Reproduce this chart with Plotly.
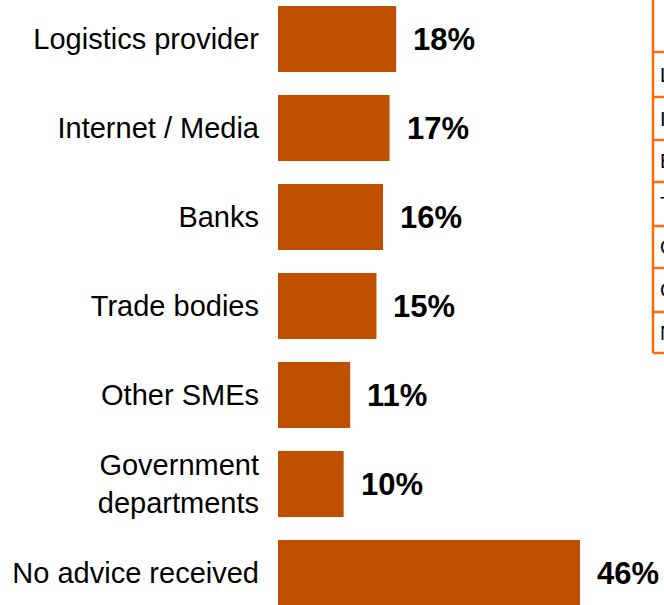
import plotly.graph_objects as go

# Sources of advice (share of respondents, %)
categories = [
    "Logistics provider",
    "Internet / Media",
    "Banks",
    "Trade bodies",
    "Other SMEs",
    "Government<br>departments",
    "No advice received",
]
values = [18, 17, 16, 15, 11, 10, 46]
value_labels = [f"{v}%" for v in values]

# Side table row entries (only the leftmost sliver is in view)
table_rows = ["Logistics provider", "Internet / Media", "Banks", "Trade bodies",
              "Other SMEs", "Government departments", "No advice received"]

BAR_COLOR = "#C04F00"
TABLE_LINE = "#FF6A0D"
FONT = "Liberation Sans, Arial, sans-serif"

fig = go.Figure()
fig.add_trace(go.Bar(
    x=values,
    y=categories,
    orientation="h",
    marker=dict(color=BAR_COLOR, line=dict(width=0)),
    width=0.74,
    hoverinfo="skip",
))

# Bold value labels to the right of each bar
for cat, v, lab in zip(categories, values, value_labels):
    fig.add_annotation(
        x=v, y=cat, xref="x", yref="y",
        text=f"<b>{lab}</b>", showarrow=False,
        xanchor="left", yanchor="middle", xshift=15, yshift=-1,
        font=dict(family=FONT, size=31, color="#000000"),
    )

# Side table: left border, row separators and clipped row text
row_edges = [0, 52, 97, 140, 182, 226, 268, 312, 353]
fig.add_shape(
    type="line", xref="paper", yref="paper",
    xsizemode="pixel", ysizemode="pixel", xanchor=1, yanchor=1,
    x0=-11, x1=-11, y0=0, y1=-row_edges[-1],
    line=dict(color=TABLE_LINE, width=2.5),
)
for e in row_edges[1:]:
    fig.add_shape(
        type="line", xref="paper", yref="paper",
        xsizemode="pixel", ysizemode="pixel", xanchor=1, yanchor=1,
        x0=-11, x1=5, y0=-e, y1=-e,
        line=dict(color=TABLE_LINE, width=2.5),
    )
for i, txt in enumerate(table_rows):
    mid = (row_edges[i + 1] + row_edges[i + 2]) / 2
    fig.add_annotation(
        x=1, y=1, xref="paper", yref="paper",
        xshift=-6, yshift=-mid,
        text=txt, showarrow=False,
        xanchor="left", yanchor="middle",
        font=dict(family=FONT, size=20, color="#000000"),
    )

fig.update_layout(
    width=664, height=605,
    margin=dict(l=278, r=0, t=0, b=0),
    paper_bgcolor="white", plot_bgcolor="white",
    showlegend=False,
    bargap=0.26,
    xaxis=dict(range=[0, 58.8], visible=False, showgrid=False, zeroline=False),
    yaxis=dict(
        type="category",
        categoryorder="array", categoryarray=categories,
        range=[6.36, -0.438],
        showgrid=False, zeroline=False, showline=False,
        ticks="", ticklabelstandoff=18,
        tickfont=dict(family=FONT, size=29, color="#000000"),
    ),
)

fig.write_html("out.html")
